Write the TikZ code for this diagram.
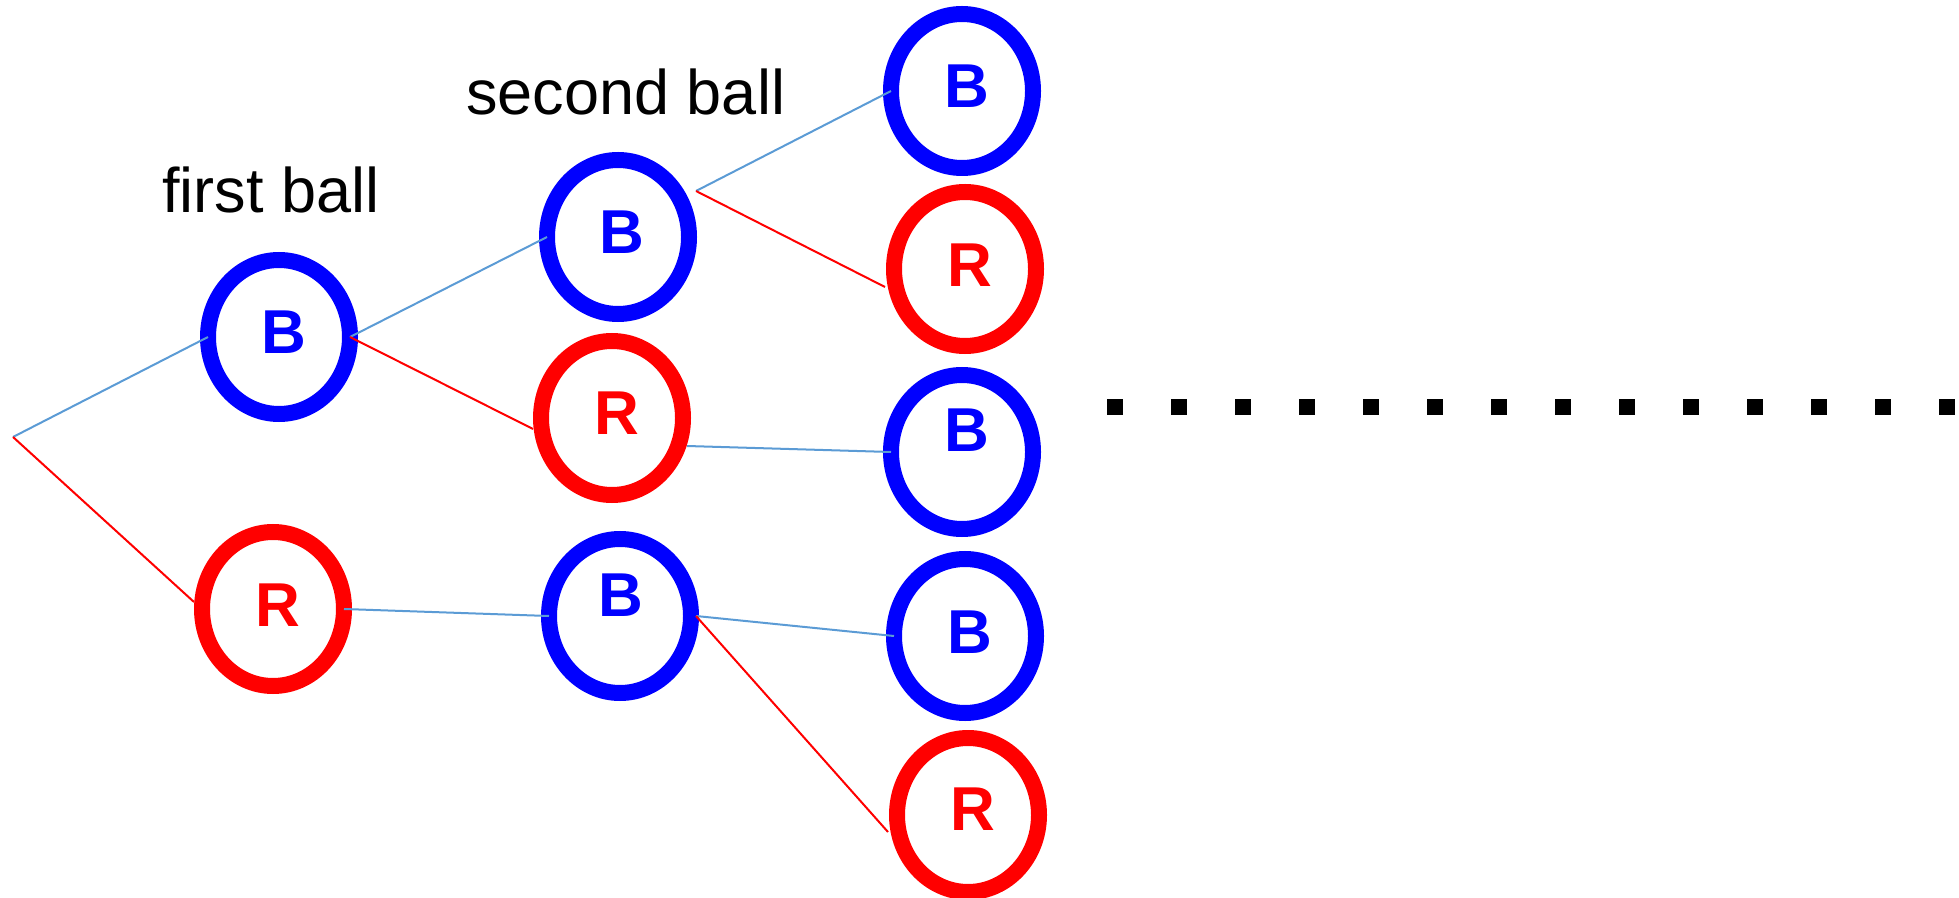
\documentclass[tikz,border=0pt]{standalone}
\usepackage{fontspec}
\setmainfont{Liberation Sans}
\usetikzlibrary{shapes.geometric}
\definecolor{ballblue}{RGB}{0,0,255}
\definecolor{ballred}{RGB}{255,0,0}
\definecolor{lineblue}{RGB}{91,155,213}
\begin{document}
\begin{tikzpicture}[x=0.5pt,y=-0.5pt,
  ball/.style={ellipse, draw, line width=8pt, minimum width=71pt, minimum height=77pt, inner sep=0pt, outer sep=0pt},
  bball/.style={ball, draw=ballblue},
  rball/.style={ball, draw=ballred},
  letter/.style={font=\fontsize{31}{31}\selectfont\bfseries, inner sep=0pt},
  bl/.style={line width=1pt, draw=lineblue},
  rl/.style={line width=1pt, draw=ballred},
  heading/.style={font=\fontsize{31.5}{32}\selectfont, inner sep=0pt, anchor=base west},
  dotline/.style={line width=8pt, dash pattern=on 8pt off 24pt}]
\useasboundingbox (0,0) rectangle (1959,898);

% headings
\node[heading] (t1) at (162,213) {first ball};
\node[heading] (t2) at (466,115) {second ball};

% balls
\node[bball, label={[letter, text=ballblue, xshift=2.5pt, yshift=2.5pt]center:B}] (B1) at (279,337) {};
\node[rball, label={[letter, text=ballred, xshift=2.5pt, yshift=2pt]center:R}] (R1) at (273,609) {};
\node[bball, label={[letter, text=ballblue, xshift=2pt, yshift=2.5pt]center:B}] (B2) at (618,237) {};
\node[rball, label={[letter, text=ballred, xshift=2.5pt, yshift=2.5pt]center:R}] (R2) at (612,418) {};
\node[bball, label={[letter, text=ballblue, xshift=0.5pt, yshift=10.5pt]center:B}] (B3) at (620,616) {};
\node[bball, label={[letter, text=ballblue, xshift=2.5pt, yshift=2.5pt]center:B}] (BB) at (962,91) {};
\node[rball, label={[letter, text=ballred, xshift=2.5pt, yshift=2pt]center:R}] (BR) at (965,269) {};
\node[bball, label={[letter, text=ballblue, xshift=2.5pt, yshift=11pt]center:B}] (RB) at (962,452) {};
\node[bball, label={[letter, text=ballblue, xshift=2.5pt, yshift=2pt]center:B}] (B3B) at (965,636) {};
\node[rball, label={[letter, text=ballred, xshift=2.5pt, yshift=3pt]center:R}] (B3R) at (968,815) {};

% connector end points
\coordinate (root) at (13,437);
\coordinate (r1in) at (194,602);
\coordinate (r2in) at (533,429);
\coordinate (b2out) at (696,191);
\coordinate (brin) at (885,287);
\coordinate (r2out) at (687,446);
\coordinate (b3out) at (696,616);
\coordinate (b3rin) at (888,832);

% connectors
\draw[bl] (root) -- (B1.west);
\draw[rl] (root) -- (r1in);
\draw[bl] (B1.east) -- (B2.west);
\draw[rl] (B1.east) -- (r2in);
\draw[bl] (b2out) -- (BB.west);
\draw[rl] (b2out) -- (brin);
\draw[bl] (r2out) -- (RB.west);
\draw[bl] (R1.east) -- (B3.west);
\draw[bl] (b3out) -- (B3B.west);
\draw[rl] (b3out) -- (b3rin);

% dotted continuation
\coordinate (d0) at (1107,407);
\coordinate (d1) at (1959,407);
\draw[dotline] (d0) -- (d1);
\end{tikzpicture}
\end{document}
